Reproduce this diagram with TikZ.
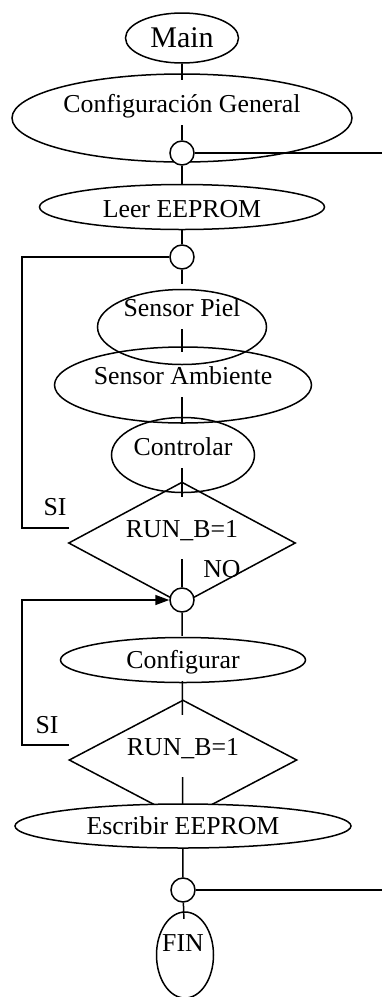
\documentclass[tikz,border=0pt]{standalone}
\usepackage{fontspec}
\setmainfont{Liberation Serif}
\usetikzlibrary{shapes.geometric,arrows.meta,backgrounds}

\tikzset{
  txtfont/.style={font=\fontsize{25.8}{30}\selectfont},
  oval/.style={draw, ellipse, inner sep=0pt},
  rhombus/.style={draw, diamond, inner sep=0pt},
  joint/.style={draw, circle, fill=white, minimum size=24pt, inner sep=0pt},
  lbl/.style={txtfont, fill=white, anchor=base, inner sep=8pt,
              text height=24pt, text depth=5pt},
  runlbl/.style={lbl, text height=32pt, text depth=14pt},
  plainlbl/.style={txtfont, anchor=base, inner sep=0pt},
  tip/.style={-{Triangle[length=14pt,width=10pt]}}
}

\begin{document}
\begin{tikzpicture}[x=1pt, y=-1pt, line width=1.5pt]
  \useasboundingbox (0,0) rectangle (382,997);

  % process shapes
  \node[oval, minimum width=113pt, minimum height=50pt,
        font=\fontsize{30}{34}\selectfont] (main) at (182,38) {Main};
  \node[oval, minimum width=340pt, minimum height=88pt] (cfg) at (182,118) {};
  \node[oval, minimum width=285pt, minimum height=45pt] (leer) at (182,207) {};
  \node[oval, minimum width=169pt, minimum height=75pt] (piel) at (182,327) {};
  \node[oval, minimum width=257pt, minimum height=76pt] (amb) at (183,385) {};
  \node[oval, minimum width=143pt, minimum height=75pt] (ctrl) at (183,455) {};
  \node[rhombus, minimum width=227pt, minimum height=122pt] (d1) at (182,543) {};
  \node[oval, minimum width=245pt, minimum height=45pt] (conf) at (183,660) {};
  \node[rhombus, minimum width=228pt, minimum height=120pt] (d2) at (183,760) {};
  \node[oval, fill=white, txtfont, minimum width=336pt, minimum height=44pt]
        (esc) at (183,826) {Escribir EEPROM};
  \node[oval, minimum width=57pt, minimum height=86pt] (fin) at (185,955) {};

  % junction points
  \node[joint] (c1) at (182,153) {};
  \node[joint] (c2) at (182,257) {};
  \node[joint] (c3) at (182,600) {};
  \node[joint] (c4) at (183,890) {};

  % loose ends of the return lines
  \coordinate (lx) at (22,0);
  \coordinate (rx) at (382,0);
  \coordinate (s1) at (69,528);
  \coordinate (s2) at (69,745);

  % return loops and outgoing lines
  \draw (s1) -- (s1 -| lx) |- (c2);
  \draw[tip] (s2) -- (s2 -| lx) |- (c3);
  \draw (c1) -- (c1 -| rx);
  \draw (c4) -- (c4 -| rx);

  \node[plainlbl] (si1) at (55,515) {SI};
  \node[plainlbl] (si2) at (47,733) {SI};
  \node[plainlbl] (no) at (222,577) {NO};

  \begin{scope}[on background layer]
  \begin{scope}[line width=1.5pt]
    % main flow line
    \draw (main) -- (c1);
    \draw (c1) -- (c2);
    \draw (c2) -- (c3);
    \draw (c3) -- (c4);
    \draw (c4) -- (fin.center);

    % step texts
    \node[lbl] (cfgtxt) at (182,112) {Configuración General};
    \node[lbl] (leertxt) at (182,217) {Leer EEPROM};
    \node[lbl] (pieltxt) at (182,316) {Sensor Piel};
    \node[lbl] (ambtxt) at (183,384) {Sensor Ambiente};
    \node[lbl] (ctrltxt) at (183,455) {Controlar};
    \node[runlbl] (d1txt) at (182,537) {RUN\_B=1};
    \node[lbl] (conftxt) at (183,668) {Configurar};
    \node[runlbl] (d2txt) at (183,755) {RUN\_B=1};
    \node[lbl] (fintxt) at (183,951) {FIN};
  \end{scope}
  \end{scope}
\end{tikzpicture}
\end{document}
